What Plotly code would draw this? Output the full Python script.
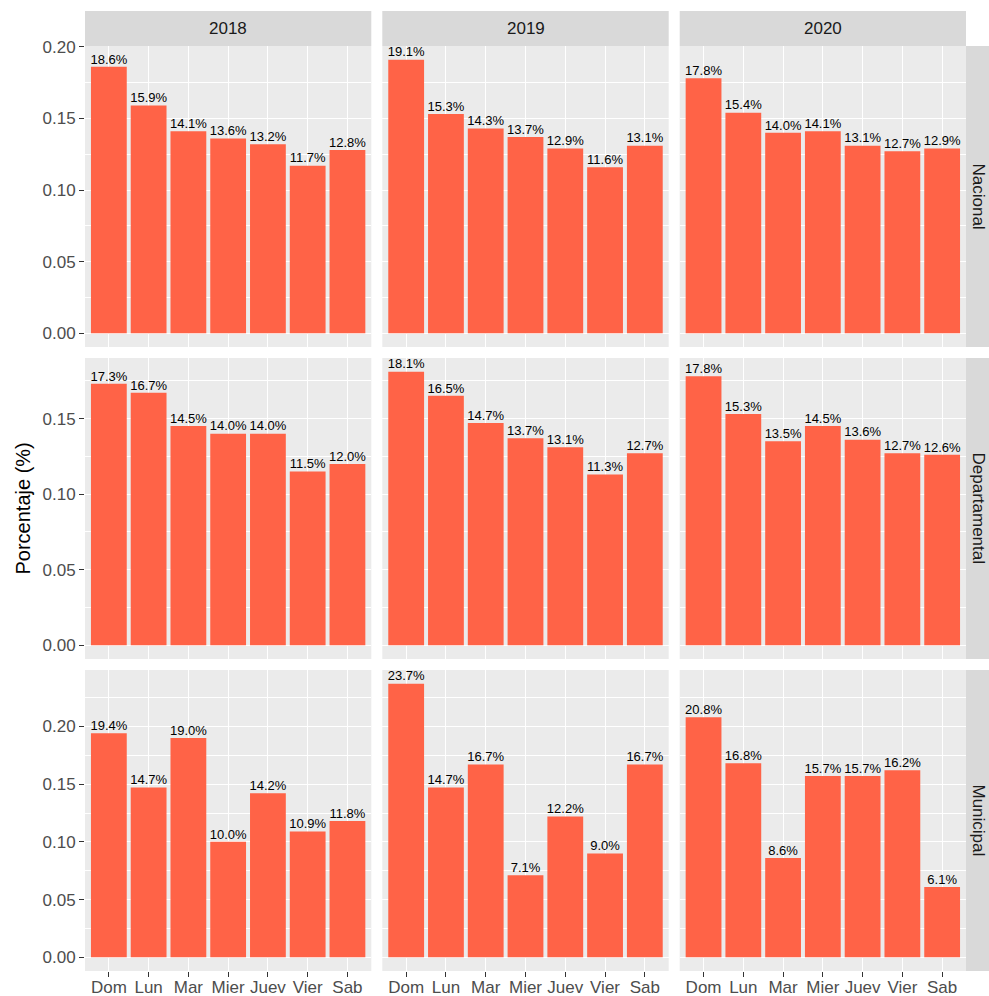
import plotly.graph_objects as go

days = ["Dom", "Lun", "Mar", "Mier", "Juev", "Vier", "Sab"]
years = ["2018", "2019", "2020"]
levels = ["Nacional", "Departamental", "Municipal"]

nacional_2018 = [0.186, 0.159, 0.141, 0.136, 0.132, 0.117, 0.128]
nacional_2019 = [0.191, 0.153, 0.143, 0.137, 0.129, 0.116, 0.131]
nacional_2020 = [0.178, 0.154, 0.140, 0.141, 0.131, 0.127, 0.129]
departamental_2018 = [0.173, 0.167, 0.145, 0.140, 0.140, 0.115, 0.120]
departamental_2019 = [0.181, 0.165, 0.147, 0.137, 0.131, 0.113, 0.127]
departamental_2020 = [0.178, 0.153, 0.135, 0.145, 0.136, 0.127, 0.126]
municipal_2018 = [0.194, 0.147, 0.190, 0.100, 0.142, 0.109, 0.118]
municipal_2019 = [0.237, 0.147, 0.167, 0.071, 0.122, 0.090, 0.167]
municipal_2020 = [0.208, 0.168, 0.086, 0.157, 0.157, 0.162, 0.061]

data = {
    ("Nacional", "2018"): nacional_2018,
    ("Nacional", "2019"): nacional_2019,
    ("Nacional", "2020"): nacional_2020,
    ("Departamental", "2018"): departamental_2018,
    ("Departamental", "2019"): departamental_2019,
    ("Departamental", "2020"): departamental_2020,
    ("Municipal", "2018"): municipal_2018,
    ("Municipal", "2019"): municipal_2019,
    ("Municipal", "2020"): municipal_2020,
}

W, H = 989, 996
FONT = "Liberation Sans, Arial, sans-serif"
col_px = [(85, 371.3), (382.3, 668.7), (679.7, 966)]
row_px = [(46, 347), (358, 659), (670, 971)]


def xd(a, b):
    return [a / W, b / W]


def yd(top, bottom):
    return [1 - bottom / H, 1 - top / H]


fig = go.Figure()
layout = dict(
    width=W, height=H, autosize=False,
    margin=dict(l=0, r=0, t=0, b=0, autoexpand=False),
    paper_bgcolor="white", plot_bgcolor="#EBEBEB",
    font=dict(family=FONT, color="#4D4D4D"),
    showlegend=False,
    shapes=[], annotations=[],
)

for r, lev in enumerate(levels):
    m = max(max(data[(lev, y)]) for y in years)
    yrange = [-0.05 * m, 1.05 * m]
    for c, yr in enumerate(years):
        i = r * 3 + c + 1
        sx = "" if i == 1 else str(i)
        vals = data[(lev, yr)]
        fig.add_trace(go.Bar(
            x=days, y=vals, width=0.9, marker=dict(color="#FF6347", line=dict(width=0)),
            xaxis="x" + sx, yaxis="y" + sx, hoverinfo="skip"))
        fig.add_trace(go.Scatter(
            x=days, y=vals, mode="text", texttemplate="%{y:.1%}",
            textposition="top center", textfont=dict(size=13, color="black", family=FONT),
            cliponaxis=False, xaxis="x" + sx, yaxis="y" + sx, hoverinfo="skip"))
        bottom_row = (r == 2)
        left_col = (c == 0)
        layout["xaxis" + sx] = dict(
            domain=xd(*col_px[c]), anchor="y" + sx, type="category",
            categoryorder="array", categoryarray=days, range=[-0.6, 6.6],
            showgrid=True, gridcolor="white", gridwidth=1.1, zeroline=False,
            showline=False, showticklabels=bottom_row, automargin=False,
            ticks="outside" if bottom_row else "", ticklen=5, tickwidth=1.1, tickcolor="#333333",
            ticklabelstandoff=-4,
            tickfont=dict(size=17, color="#4D4D4D", family=FONT), fixedrange=True)
        layout["yaxis" + sx] = dict(
            domain=yd(*row_px[r]), anchor="x" + sx, range=yrange,
            tickmode="linear", tick0=0, dtick=0.05, tickformat=".2f",
            showgrid=True, gridcolor="white", gridwidth=1.1, zeroline=False,
            minor=dict(dtick=0.025, tick0=0, showgrid=True, gridcolor="white", gridwidth=0.55, ticks=""),
            showline=False, showticklabels=left_col, automargin=False,
            ticks="outside" if left_col else "", ticklen=5, tickwidth=1.1, tickcolor="#333333",
            tickfont=dict(size=17, color="#4D4D4D", family=FONT), fixedrange=True)

# top strips
for c, yr in enumerate(years):
    a, b = col_px[c]
    layout["shapes"].append(dict(type="rect", xref="paper", yref="paper",
                                 x0=a / W, x1=b / W, y0=1 - 46 / H, y1=1 - 11 / H,
                                 fillcolor="#D9D9D9", line=dict(width=0), layer="below"))
    layout["annotations"].append(dict(text=yr, xref="paper", yref="paper",
                                      x=(a + b) / 2 / W, y=1 - 28.5 / H, showarrow=False,
                                      xanchor="center", yanchor="middle",
                                      font=dict(size=17, color="#1A1A1A", family=FONT)))
# right strips
for r, lev in enumerate(levels):
    t, b = row_px[r]
    layout["shapes"].append(dict(type="rect", xref="paper", yref="paper",
                                 x0=966 / W, x1=1.0, y0=1 - b / H, y1=1 - t / H,
                                 fillcolor="#D9D9D9", line=dict(width=0), layer="below"))
    layout["annotations"].append(dict(text=lev, xref="paper", yref="paper",
                                      x=978 / W, y=1 - (t + b) / 2 / H, showarrow=False,
                                      textangle=90, xanchor="center", yanchor="middle",
                                      font=dict(size=17, color="#1A1A1A", family=FONT)))

layout["annotations"].append(dict(text="Porcentaje (%)", xref="paper", yref="paper",
                                  x=22 / W, y=1 - 508.5 / H, showarrow=False, textangle=-90,
                                  xanchor="center", yanchor="middle",
                                  font=dict(size=20, color="black", family=FONT)))

fig.update_layout(**layout)
post = ("document.documentElement.style.margin='0';document.body.style.margin='0';"
        "document.body.style.padding='0';document.documentElement.style.overflow='hidden';"
        "document.body.style.overflow='hidden';"
        "var d=document.querySelector('.plotly-graph-div');"
        "d.style.position='fixed';d.style.top='0px';d.style.left='0px';")
fig.write_html("out.html", post_script=post, config={"displayModeBar": False})
